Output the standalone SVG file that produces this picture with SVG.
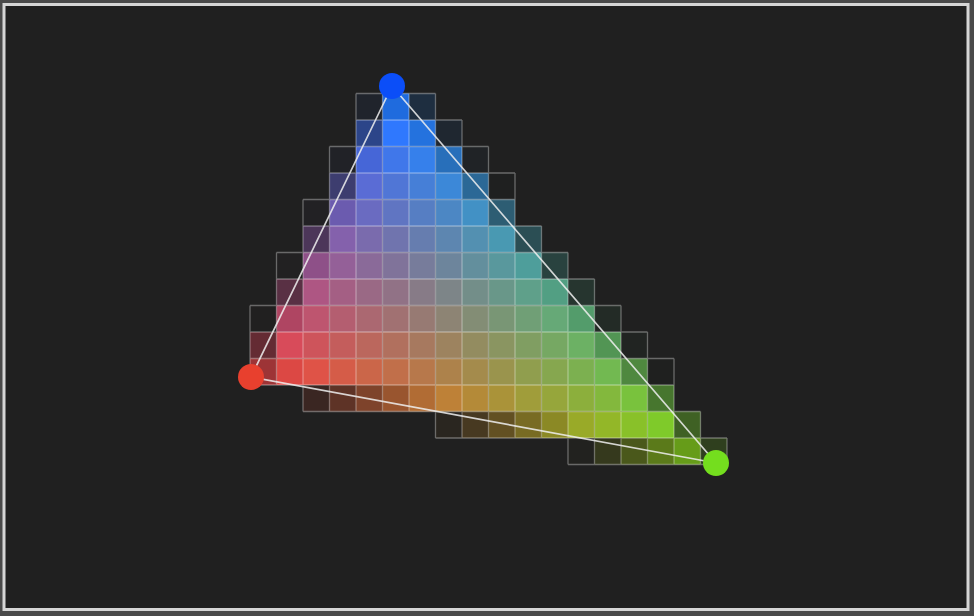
<svg xmlns="http://www.w3.org/2000/svg" width="974" height="616" viewBox="0 0 974 616">
<style>
.grid{fill:none;stroke:#ffffff;stroke-opacity:0.33;stroke-width:1.3}
.edge{stroke:#f0f0f0;stroke-opacity:0.85;stroke-width:1.7;fill:none;stroke-linecap:round}
#cells rect{stroke:none}
</style>
<rect x="0" y="0" width="974" height="616" fill="#4a4a4a"/>
<rect x="4" y="4.5" width="964" height="605" fill="#202020" stroke="#d6d6d6" stroke-width="3"/>
<g id="cells">
<rect x="356" y="93.5" width="26.5" height="26.5" fill="rgb(41,111,255)" fill-opacity=".053"/>
<rect x="382.5" y="93.5" width="26.5" height="26.5" fill="rgb(31,121,255)" fill-opacity=".855"/>
<rect x="409" y="93.5" width="26.5" height="26.5" fill="rgb(21,130,255)" fill-opacity=".144"/>
<rect x="356" y="120" width="26.5" height="26.5" fill="rgb(57,110,254)" fill-opacity=".469"/>
<rect x="382.5" y="120" width="26.5" height="26.5" fill="rgb(47,120,254)"/>
<rect x="409" y="120" width="26.5" height="26.5" fill="rgb(38,129,255)" fill-opacity=".853"/>
<rect x="435.5" y="120" width="26.5" height="26.5" fill="rgb(28,138,255)" fill-opacity=".073"/>
<rect x="329.5" y="146.5" width="26.5" height="26.5" fill="rgb(83,100,233)" fill-opacity=".04"/>
<rect x="356" y="146.5" width="26.5" height="26.5" fill="rgb(74,109,233)" fill-opacity=".914"/>
<rect x="382.5" y="146.5" width="26.5" height="26.5" fill="rgb(64,119,234)"/>
<rect x="409" y="146.5" width="26.5" height="26.5" fill="rgb(54,128,235)"/>
<rect x="435.5" y="146.5" width="26.5" height="26.5" fill="rgb(44,137,236)" fill-opacity=".757"/>
<rect x="462" y="146.5" width="26.5" height="26.5" fill="rgb(34,147,237)" fill-opacity=".026"/>
<rect x="329.5" y="173" width="26.5" height="26.5" fill="rgb(99,99,212)" fill-opacity=".44"/>
<rect x="356" y="173" width="26.5" height="26.5" fill="rgb(90,108,213)"/>
<rect x="382.5" y="173" width="26.5" height="26.5" fill="rgb(80,118,214)"/>
<rect x="409" y="173" width="26.5" height="26.5" fill="rgb(70,127,215)"/>
<rect x="435.5" y="173" width="26.5" height="26.5" fill="rgb(60,136,216)"/>
<rect x="462" y="173" width="26.5" height="26.5" fill="rgb(50,146,217)" fill-opacity=".639"/>
<rect x="488.5" y="173" width="26.5" height="26.5" fill="rgb(40,155,218)" fill-opacity=".003"/>
<rect x="303" y="199.5" width="26.5" height="26.5" fill="rgb(125,89,192)" fill-opacity=".029"/>
<rect x="329.5" y="199.5" width="26.5" height="26.5" fill="rgb(116,98,192)" fill-opacity=".896"/>
<rect x="356" y="199.5" width="26.5" height="26.5" fill="rgb(106,107,193)"/>
<rect x="382.5" y="199.5" width="26.5" height="26.5" fill="rgb(96,117,194)"/>
<rect x="409" y="199.5" width="26.5" height="26.5" fill="rgb(86,126,195)"/>
<rect x="435.5" y="199.5" width="26.5" height="26.5" fill="rgb(76,135,196)"/>
<rect x="462" y="199.5" width="26.5" height="26.5" fill="rgb(66,145,197)"/>
<rect x="488.5" y="199.5" width="26.5" height="26.5" fill="rgb(57,154,198)" fill-opacity=".5"/>
<rect x="303" y="226" width="26.5" height="26.5" fill="rgb(142,88,172)" fill-opacity=".411"/>
<rect x="329.5" y="226" width="26.5" height="26.5" fill="rgb(132,97,172)"/>
<rect x="356" y="226" width="26.5" height="26.5" fill="rgb(122,107,173)"/>
<rect x="382.5" y="226" width="26.5" height="26.5" fill="rgb(112,116,174)"/>
<rect x="409" y="226" width="26.5" height="26.5" fill="rgb(102,125,175)"/>
<rect x="435.5" y="226" width="26.5" height="26.5" fill="rgb(93,134,176)"/>
<rect x="462" y="226" width="26.5" height="26.5" fill="rgb(83,144,177)"/>
<rect x="488.5" y="226" width="26.5" height="26.5" fill="rgb(73,153,178)"/>
<rect x="515" y="226" width="26.5" height="26.5" fill="rgb(63,162,178)" fill-opacity=".361"/>
<rect x="276.5" y="252.5" width="26.5" height="26.5" fill="rgb(168,78,151)" fill-opacity=".02"/>
<rect x="303" y="252.5" width="26.5" height="26.5" fill="rgb(158,87,151)" fill-opacity=".876"/>
<rect x="329.5" y="252.5" width="26.5" height="26.5" fill="rgb(148,96,152)"/>
<rect x="356" y="252.5" width="26.5" height="26.5" fill="rgb(138,106,153)"/>
<rect x="382.5" y="252.5" width="26.5" height="26.5" fill="rgb(128,115,154)"/>
<rect x="409" y="252.5" width="26.5" height="26.5" fill="rgb(119,124,155)"/>
<rect x="435.5" y="252.5" width="26.5" height="26.5" fill="rgb(109,133,156)"/>
<rect x="462" y="252.5" width="26.5" height="26.5" fill="rgb(99,143,157)"/>
<rect x="488.5" y="252.5" width="26.5" height="26.5" fill="rgb(89,152,157)"/>
<rect x="515" y="252.5" width="26.5" height="26.5" fill="rgb(79,161,158)" fill-opacity=".974"/>
<rect x="541.5" y="252.5" width="26.5" height="26.5" fill="rgb(69,171,159)" fill-opacity=".242"/>
<rect x="276.5" y="279" width="26.5" height="26.5" fill="rgb(184,77,130)" fill-opacity=".382"/>
<rect x="303" y="279" width="26.5" height="26.5" fill="rgb(174,86,131)"/>
<rect x="329.5" y="279" width="26.5" height="26.5" fill="rgb(164,95,132)"/>
<rect x="356" y="279" width="26.5" height="26.5" fill="rgb(154,105,133)"/>
<rect x="382.5" y="279" width="26.5" height="26.5" fill="rgb(145,114,134)"/>
<rect x="409" y="279" width="26.5" height="26.5" fill="rgb(135,123,135)"/>
<rect x="435.5" y="279" width="26.5" height="26.5" fill="rgb(125,133,136)"/>
<rect x="462" y="279" width="26.5" height="26.5" fill="rgb(115,142,137)"/>
<rect x="488.5" y="279" width="26.5" height="26.5" fill="rgb(105,151,137)"/>
<rect x="515" y="279" width="26.5" height="26.5" fill="rgb(95,160,138)"/>
<rect x="541.5" y="279" width="26.5" height="26.5" fill="rgb(86,170,139)" fill-opacity=".926"/>
<rect x="568" y="279" width="26.5" height="26.5" fill="rgb(76,179,140)" fill-opacity=".147"/>
<rect x="250" y="305.5" width="26.5" height="26.5" fill="rgb(210,66,110)" fill-opacity=".012"/>
<rect x="276.5" y="305.5" width="26.5" height="26.5" fill="rgb(200,76,110)" fill-opacity=".854"/>
<rect x="303" y="305.5" width="26.5" height="26.5" fill="rgb(190,85,111)"/>
<rect x="329.5" y="305.5" width="26.5" height="26.5" fill="rgb(180,94,112)"/>
<rect x="356" y="305.5" width="26.5" height="26.5" fill="rgb(171,104,113)"/>
<rect x="382.5" y="305.5" width="26.5" height="26.5" fill="rgb(161,113,114)"/>
<rect x="409" y="305.5" width="26.5" height="26.5" fill="rgb(151,122,115)"/>
<rect x="435.5" y="305.5" width="26.5" height="26.5" fill="rgb(141,132,116)"/>
<rect x="462" y="305.5" width="26.5" height="26.5" fill="rgb(131,141,117)"/>
<rect x="488.5" y="305.5" width="26.5" height="26.5" fill="rgb(121,150,117)"/>
<rect x="515" y="305.5" width="26.5" height="26.5" fill="rgb(112,159,118)"/>
<rect x="541.5" y="305.5" width="26.5" height="26.5" fill="rgb(102,169,119)"/>
<rect x="568" y="305.5" width="26.5" height="26.5" fill="rgb(92,178,120)" fill-opacity=".856"/>
<rect x="594.5" y="305.5" width="26.5" height="26.5" fill="rgb(82,187,121)" fill-opacity=".076"/>
<rect x="250" y="332" width="26.5" height="26.5" fill="rgb(226,65,89)" fill-opacity=".352"/>
<rect x="276.5" y="332" width="26.5" height="26.5" fill="rgb(216,75,90)"/>
<rect x="303" y="332" width="26.5" height="26.5" fill="rgb(206,84,91)"/>
<rect x="329.5" y="332" width="26.5" height="26.5" fill="rgb(196,93,92)"/>
<rect x="356" y="332" width="26.5" height="26.5" fill="rgb(187,103,93)"/>
<rect x="382.5" y="332" width="26.5" height="26.5" fill="rgb(177,112,94)"/>
<rect x="409" y="332" width="26.5" height="26.5" fill="rgb(167,121,95)"/>
<rect x="435.5" y="332" width="26.5" height="26.5" fill="rgb(157,131,95)"/>
<rect x="462" y="332" width="26.5" height="26.5" fill="rgb(147,140,96)"/>
<rect x="488.5" y="332" width="26.5" height="26.5" fill="rgb(138,149,97)"/>
<rect x="515" y="332" width="26.5" height="26.5" fill="rgb(128,158,98)"/>
<rect x="541.5" y="332" width="26.5" height="26.5" fill="rgb(118,168,99)"/>
<rect x="568" y="332" width="26.5" height="26.5" fill="rgb(108,177,100)"/>
<rect x="594.5" y="332" width="26.5" height="26.5" fill="rgb(98,186,101)" fill-opacity=".761"/>
<rect x="621" y="332" width="26.5" height="26.5" fill="rgb(88,196,101)" fill-opacity=".028"/>
<rect x="250" y="358.5" width="26.5" height="26.5" fill="rgb(242,65,69)" fill-opacity=".595"/>
<rect x="276.5" y="358.5" width="26.5" height="26.5" fill="rgb(232,74,70)" fill-opacity=".94"/>
<rect x="303" y="358.5" width="26.5" height="26.5" fill="rgb(223,83,71)"/>
<rect x="329.5" y="358.5" width="26.5" height="26.5" fill="rgb(213,92,72)"/>
<rect x="356" y="358.5" width="26.5" height="26.5" fill="rgb(203,102,73)"/>
<rect x="382.5" y="358.5" width="26.5" height="26.5" fill="rgb(193,111,74)"/>
<rect x="409" y="358.5" width="26.5" height="26.5" fill="rgb(183,120,75)"/>
<rect x="435.5" y="358.5" width="26.5" height="26.5" fill="rgb(173,130,75)"/>
<rect x="462" y="358.5" width="26.5" height="26.5" fill="rgb(164,139,76)"/>
<rect x="488.5" y="358.5" width="26.5" height="26.5" fill="rgb(154,148,77)"/>
<rect x="515" y="358.5" width="26.5" height="26.5" fill="rgb(144,158,78)"/>
<rect x="541.5" y="358.5" width="26.5" height="26.5" fill="rgb(134,167,79)"/>
<rect x="568" y="358.5" width="26.5" height="26.5" fill="rgb(124,176,80)"/>
<rect x="594.5" y="358.5" width="26.5" height="26.5" fill="rgb(114,185,81)"/>
<rect x="621" y="358.5" width="26.5" height="26.5" fill="rgb(105,195,81)" fill-opacity=".643"/>
<rect x="647.5" y="358.5" width="26.5" height="26.5" fill="rgb(95,204,82)" fill-opacity=".003"/>
<rect x="303" y="385" width="26.5" height="26.5" fill="rgb(239,82,51)" fill-opacity=".128"/>
<rect x="329.5" y="385" width="26.5" height="26.5" fill="rgb(229,91,52)" fill-opacity=".314"/>
<rect x="356" y="385" width="26.5" height="26.5" fill="rgb(219,101,53)" fill-opacity=".5"/>
<rect x="382.5" y="385" width="26.5" height="26.5" fill="rgb(209,110,54)" fill-opacity=".685"/>
<rect x="409" y="385" width="26.5" height="26.5" fill="rgb(199,119,55)" fill-opacity=".87"/>
<rect x="435.5" y="385" width="26.5" height="26.5" fill="rgb(190,129,55)"/>
<rect x="462" y="385" width="26.5" height="26.5" fill="rgb(180,138,56)"/>
<rect x="488.5" y="385" width="26.5" height="26.5" fill="rgb(170,147,57)"/>
<rect x="515" y="385" width="26.5" height="26.5" fill="rgb(160,157,58)"/>
<rect x="541.5" y="385" width="26.5" height="26.5" fill="rgb(150,166,59)"/>
<rect x="568" y="385" width="26.5" height="26.5" fill="rgb(140,175,60)"/>
<rect x="594.5" y="385" width="26.5" height="26.5" fill="rgb(131,184,61)"/>
<rect x="621" y="385" width="26.5" height="26.5" fill="rgb(121,194,61)"/>
<rect x="647.5" y="385" width="26.5" height="26.5" fill="rgb(111,203,62)" fill-opacity=".505"/>
<rect x="435.5" y="411.5" width="26.5" height="26.5" fill="rgb(206,128,35)" fill-opacity=".059"/>
<rect x="462" y="411.5" width="26.5" height="26.5" fill="rgb(196,137,36)" fill-opacity=".241"/>
<rect x="488.5" y="411.5" width="26.5" height="26.5" fill="rgb(186,146,37)" fill-opacity=".426"/>
<rect x="515" y="411.5" width="26.5" height="26.5" fill="rgb(176,156,38)" fill-opacity=".611"/>
<rect x="541.5" y="411.5" width="26.5" height="26.5" fill="rgb(167,165,39)" fill-opacity=".797"/>
<rect x="568" y="411.5" width="26.5" height="26.5" fill="rgb(157,174,40)" fill-opacity=".967"/>
<rect x="594.5" y="411.5" width="26.5" height="26.5" fill="rgb(147,183,40)"/>
<rect x="621" y="411.5" width="26.5" height="26.5" fill="rgb(137,193,41)"/>
<rect x="647.5" y="411.5" width="26.5" height="26.5" fill="rgb(127,202,42)"/>
<rect x="674" y="411.5" width="26.5" height="26.5" fill="rgb(117,211,43)" fill-opacity=".365"/>
<rect x="568" y="438" width="26.5" height="26.5" fill="rgb(173,173,20)" fill-opacity=".015"/>
<rect x="594.5" y="438" width="26.5" height="26.5" fill="rgb(163,182,20)" fill-opacity=".167"/>
<rect x="621" y="438" width="26.5" height="26.5" fill="rgb(153,192,21)" fill-opacity=".353"/>
<rect x="647.5" y="438" width="26.5" height="26.5" fill="rgb(143,201,22)" fill-opacity=".538"/>
<rect x="674" y="438" width="26.5" height="26.5" fill="rgb(133,210,23)" fill-opacity=".698"/>
<rect x="700.5" y="438" width="26.5" height="26.5" fill="rgb(124,220,24)" fill-opacity=".168"/>
</g>
<path id="grid" class="grid" d="M356 93.5H435.5M356 120H462M329.5 146.5H488.5M329.5 173H515M303 199.5H515M303 226H541.5M276.5 252.5H568M276.5 279H594.5M250 305.5H621M250 332H647.5M250 358.5H674M250 385H674M303 411.5H700.5M435.5 438H727M568 464.5H727M250 305.5V385M276.5 252.5V385M303 199.5V411.5M329.5 146.5V411.5M356 93.5V411.5M382.5 93.5V411.5M409 93.5V411.5M435.5 93.5V438M462 120V438M488.5 146.5V438M515 173V438M541.5 226V438M568 252.5V464.5M594.5 279V464.5M621 305.5V464.5M647.5 332V464.5M674 358.5V464.5M700.5 411.5V464.5M727 438V464.5"/>
<g id="connectors">
<line class="edge" x1="392" y1="86" x2="251" y2="377"/>
<line class="edge" x1="392" y1="86" x2="716" y2="463"/>
<line class="edge" x1="251" y1="377" x2="716" y2="463"/>
</g>
<g id="vertex-blue"><circle cx="392" cy="86" r="13" fill="#0b4ef8"/></g>
<g id="vertex-red"><circle cx="251" cy="377" r="13" fill="#e8402e"/></g>
<g id="vertex-green"><circle cx="716" cy="463" r="13" fill="#74de1e"/></g>
</svg>
